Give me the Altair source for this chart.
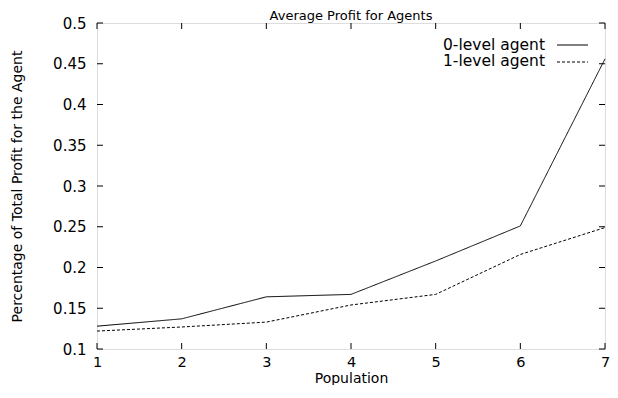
import altair as alt
import pandas as pd

population = [1, 2, 3, 4, 5, 6, 7]
agent0 = [0.128, 0.137, 0.164, 0.167, 0.208, 0.251, 0.456]
agent1 = [0.122, 0.127, 0.133, 0.154, 0.167, 0.216, 0.249]
agents = ["0-level agent", "1-level agent"]
x_ticks = [1, 2, 3, 4, 5, 6, 7]
y_ticks = [0.1, 0.15, 0.2, 0.25, 0.3, 0.35, 0.4, 0.45, 0.5]

FONT = "DejaVu Sans"
W, H = 508, 326
dashes = [[1, 0], [3, 2]]

rows = []
for name, vals in zip(agents, [agent0, agent1]):
    for p, v in zip(population, vals):
        rows.append({"Population": p, "Profit": v, "Agent": name})
df = pd.DataFrame(rows)

xscale = alt.Scale(domain=[1, 7], nice=False, zero=False)
yscale = alt.Scale(domain=[0.1, 0.5], nice=False, zero=False)

lines = alt.Chart(df).mark_line(color="black", strokeWidth=1).encode(
    x=alt.X("Population:Q", scale=xscale,
            axis=alt.Axis(values=x_ticks, format="d", title="Population",
                          ticks=False, domain=False, grid=False,
                          labelFont=FONT, labelFontSize=14.5, labelColor="black",
                          labelPadding=6, labelFlush=False, labelOverlap=False,
                          titleFont=FONT, titleFontSize=14, titleFontWeight="normal",
                          titleColor="black", titleBaseline="alphabetic", titleY=33)),
    y=alt.Y("Profit:Q", scale=yscale,
            axis=alt.Axis(values=y_ticks, format="~g",
                          title="Percentage of Total Profit for the Agent",
                          ticks=False, domain=False, grid=False,
                          labelFont=FONT, labelFontSize=15, labelColor="black",
                          labelPadding=11, labelFlush=False, labelOverlap=False,
                          titleFont=FONT, titleFontSize=14, titleFontWeight="normal",
                          titleColor="black", titleBaseline="alphabetic",
                          titleX=-76, titleY=H / 2, titleAngle=270)),
    strokeDash=alt.StrokeDash("Agent:N", scale=alt.Scale(domain=agents, range=dashes),
                              legend=None),
    detail="Agent:N",
)

xt = pd.DataFrame({"Population": x_ticks})
yt = pd.DataFrame({"Profit": y_ticks})
tick_len = 6

bottom_ticks = alt.Chart(xt).mark_rule(color="black", strokeWidth=1).encode(
    x=alt.X("Population:Q", scale=xscale),
    y=alt.value(H), y2=alt.value(H - tick_len))
top_ticks = alt.Chart(xt).mark_rule(color="black", strokeWidth=1).encode(
    x=alt.X("Population:Q", scale=xscale),
    y=alt.value(0), y2=alt.value(tick_len))
left_ticks = alt.Chart(yt).mark_rule(color="black", strokeWidth=1).encode(
    y=alt.Y("Profit:Q", scale=yscale),
    x=alt.value(0), x2=alt.value(tick_len))
right_ticks = alt.Chart(yt).mark_rule(color="black", strokeWidth=1).encode(
    y=alt.Y("Profit:Q", scale=yscale),
    x=alt.value(W), x2=alt.value(W - tick_len))

legend_layers = []
for i, name in enumerate(agents):
    ld = pd.DataFrame({"Agent": [name]})
    legend_layers.append(
        alt.Chart(ld).mark_text(align="right", baseline="alphabetic", font=FONT,
                                fontSize=15.5, color="black").encode(
            text="Agent:N", x=alt.value(W - 60), y=alt.value(26.5 + 16.5 * i)))
    legend_layers.append(
        alt.Chart(ld).mark_rule(color="black", strokeWidth=1, strokeDash=dashes[i]).encode(
            x=alt.value(W - 48), x2=alt.value(W - 17), y=alt.value(22 + 17 * i)))

chart = alt.layer(lines, bottom_ticks, top_ticks, left_ticks, right_ticks,
                  *legend_layers).properties(
    width=W, height=H,
    title=alt.TitleParams("Average Profit for Agents", font=FONT, fontSize=13,
                          fontWeight="normal", color="black", anchor="middle",
                          baseline="alphabetic", offset=0, dy=17),
    autosize=alt.AutoSizeParams(type="none"),
    padding={"left": 89, "top": 15, "right": 5, "bottom": 36},
).configure_view(stroke="black", strokeWidth=1).configure(background="white")

chart.save("out.html", embed_options={"renderer": "svg", "actions": False})
